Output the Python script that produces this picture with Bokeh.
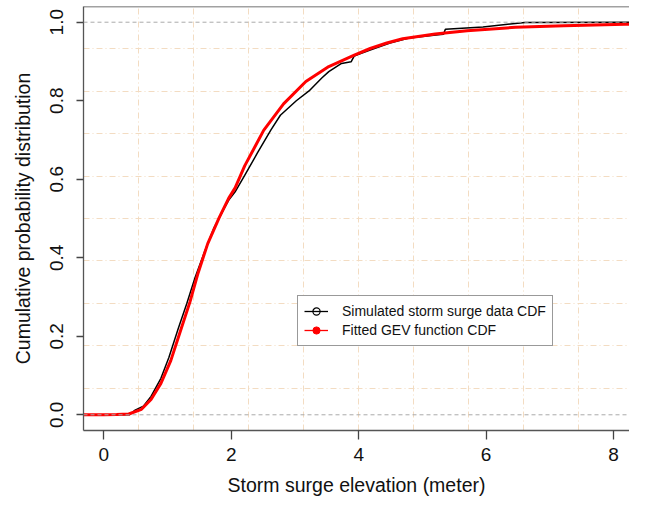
from bokeh.plotting import figure
from bokeh.models import (Range1d, FixedTicker, Span, Legend, LegendItem,
                          CustomJSTickFormatter)
from bokeh.embed import file_html
from bokeh.resources import INLINE

# ---- data ----
x_ticks = [0, 2, 4, 6, 8]
y_ticks = [0.0, 0.2, 0.4, 0.6, 0.8, 1.0]

# Simulated storm surge data (empirical CDF)
ecdf_x = [-0.32, 0.40, 0.49, 0.62, 0.74, 0.895, 1.02, 1.17, 1.30, 1.43, 1.58, 1.73,
          1.88, 1.96, 2.06, 2.21, 2.41, 2.62, 2.77, 3.02, 3.22, 3.42, 3.53, 3.73,
          3.88, 3.93, 4.03, 4.18, 4.49, 4.79, 5.25, 5.33, 5.36, 5.95, 6.61, 8.32]
ecdf_y = [0.0, 0.0, 0.012, 0.022, 0.047, 0.093, 0.146, 0.221, 0.283, 0.349, 0.415, 0.477,
          0.523, 0.547, 0.568, 0.61, 0.667, 0.725, 0.763, 0.80, 0.825, 0.858, 0.874, 0.895,
          0.899, 0.914, 0.92, 0.929, 0.947, 0.96, 0.968, 0.969, 0.982, 0.988, 0.9995, 1.0]

# Fitted GEV function CDF
gev_x = [-0.32, 0.0, 0.2, 0.39, 0.59, 0.74, 0.895, 1.05, 1.20, 1.35, 1.48, 1.63,
         1.81, 1.96, 2.06, 2.21, 2.51, 2.82, 3.17, 3.53, 3.93, 4.18, 4.44, 4.69,
         5.2, 5.70, 6.46, 7.22, 8.18, 8.32]
gev_y = [0.0, 0.0, 0.0005, 0.002, 0.014, 0.039, 0.08, 0.138, 0.213, 0.287, 0.362, 0.436,
         0.502, 0.552, 0.578, 0.634, 0.725, 0.792, 0.849, 0.887, 0.916, 0.933, 0.947, 0.958,
         0.97, 0.978, 0.987, 0.991, 0.995, 0.995]

legend_labels = ["Simulated storm surge data CDF", "Fitted GEV function CDF"]

FONT = "Liberation Sans"
x0, x1 = -0.32, 8.32          # R-style 4% extended range of 0..8
y0, y1 = -0.04, 1.04          # R-style 4% extended range of 0..1
x_vis_end = 8.25              # part visible in the cropped reference

p = figure(width=629, height=498, output_backend="svg", toolbar_location=None,
           x_range=Range1d(x0, x_vis_end), y_range=Range1d(y0, y1),
           min_border_left=83, min_border_right=0, min_border_top=6,
           min_border_bottom=68)
p.background_fill_color = "white"
p.border_fill_color = "white"
p.outline_line_color = None

# grid: 10 equal divisions of the plot region (like R's grid())
gx = [x0 + (x1 - x0) * k / 10 for k in range(1, 10)]
gy = [y0 + (y1 - y0) * k / 10 for k in range(1, 10)]
p.xgrid.ticker = FixedTicker(ticks=gx)
p.ygrid.ticker = FixedTicker(ticks=gy)
for g in (p.xgrid, p.ygrid):
    g.grid_line_color = "#f3dcc2"
    g.grid_line_width = 1
    g.grid_line_dash = "6 3 1 3"

# axes
p.xaxis.ticker = FixedTicker(ticks=x_ticks)
p.yaxis.ticker = FixedTicker(ticks=y_ticks)
p.yaxis.formatter = CustomJSTickFormatter(code="return tick.toFixed(1);")
for ax in (p.xaxis, p.yaxis):
    ax.axis_line_color = "#555555"
    ax.axis_line_width = 1.3
    ax.major_tick_line_color = "#444444"
    ax.major_tick_line_width = 1.3
    ax.major_tick_in = 0
    ax.minor_tick_line_color = None
    ax.major_label_text_font = FONT
    ax.major_label_text_font_size = "19px"
    ax.major_label_text_color = "#111111"
    ax.axis_label_text_font = FONT
    ax.axis_label_text_font_size = "19.5px"
    ax.axis_label_text_font_style = "normal"
    ax.axis_label_text_color = "#111111"
p.xaxis.major_tick_out = 9
p.yaxis.major_tick_out = 7
p.xaxis.major_label_standoff = 8
p.yaxis.major_label_standoff = 13
p.yaxis.major_label_orientation = "vertical"
p.xaxis.axis_label = "Storm surge elevation (meter)"
p.yaxis.axis_label = "Cumulative probability distribution"
p.xaxis.axis_label_standoff = 10
p.yaxis.axis_label_standoff = 14

# top border of the box
p.add_layout(Span(location=y1, dimension="width", line_color="#444444", line_width=1.6))

# dashed reference lines at 0 and 1 (ecdf style)
for yy in (0.0, 1.0):
    p.add_layout(Span(location=yy, dimension="width", line_color="#aaaaaa",
                      line_width=1, line_dash="4 3"))

r_black = p.line(ecdf_x, ecdf_y, line_color="black", line_width=1.5)
r_red = p.line(gev_x, gev_y, line_color="red", line_width=3)

# legend glyph helpers (a single point far outside the visible ranges)
far = [-100.0]
lb = p.line(far, far, line_color="black", line_width=1.3)
pb = p.scatter(far, far, marker="circle", size=7, fill_color=None, line_color="black", line_width=1.2)
lr = p.line(far, far, line_color="red", line_width=1.3)
pr = p.scatter(far, far, marker="circle", size=5, fill_color="red", line_color="red")

legend = Legend(items=[LegendItem(label=legend_labels[0], renderers=[lb, pb]),
                       LegendItem(label=legend_labels[1], renderers=[lr, pr])],
                location=(214, 84))
legend.label_text_font = FONT
legend.label_text_font_size = "14px"
legend.label_text_color = "#111111"
legend.glyph_width = 24
legend.glyph_height = 18
legend.label_height = 18
legend.label_standoff = 14
legend.padding = 6
legend.spacing = 1
legend.margin = 0
legend.border_line_color = "#333333"
legend.border_line_width = 1.3
legend.background_fill_color = "white"
legend.background_fill_alpha = 1
p.add_layout(legend, "center")

open("out.html", "w").write(file_html(p, INLINE))
